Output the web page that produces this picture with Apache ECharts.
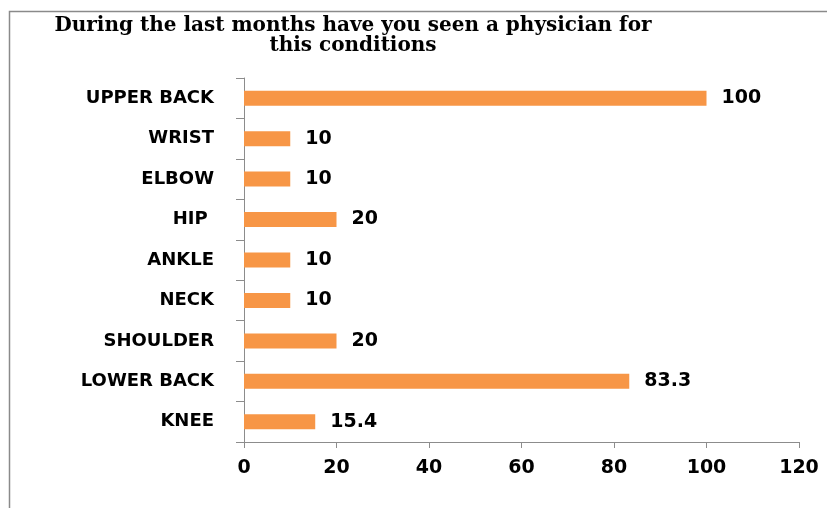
<!DOCTYPE html>
<html>
<head>
<meta charset="utf-8">
<script src="https://cdn.jsdelivr.net/npm/echarts@6/dist/echarts.min.js"></script>
<style>
  html, body { margin: 0; padding: 0; background: #fff; }
  #chart { width: 827px; height: 508px; }
</style>
</head>
<body>
<div id="chart"></div>
<script>
// Body regions, listed bottom to top as the category axis draws them
const regions = ['KNEE', 'LOWER BACK', 'SHOULDER', 'NECK', 'ANKLE', 'HIP ', 'ELBOW', 'WRIST', 'UPPER BACK'];
// Percentage who saw a physician for each region
const percentages = [15.4, 83.3, 20, 10, 10, 20, 10, 10, 100];
// Value axis range and step
const axisMin = 0;
const axisMax = 120;
const axisStep = 20;

const titleLines = ['During the last months have you seen a physician for', 'this conditions'];

const chart = echarts.init(document.getElementById('chart'), null, { renderer: 'canvas' });
const axisGray = '#8c8c8c';
const labelFont = 'DejaVu Sans';

chart.setOption({
  animation: false,
  backgroundColor: '#ffffff',
  title: {
    text: titleLines.join('\n'),
    left: 348,
    top: 11,
    textAlign: 'center',
    textStyle: {
      fontFamily: 'DejaVu Serif',
      fontWeight: 'bold',
      fontSize: 20,
      lineHeight: 20,
      color: '#000'
    }
  },
  graphic: [{
    type: 'rect',
    shape: { x: 9.5, y: 11.5, width: 900, height: 600 },
    style: { fill: 'none', stroke: '#8a8a8a', lineWidth: 1.5 },
    silent: true
  }],
  grid: { left: 244, right: 28, top: 78, bottom: 66, containLabel: false },
  xAxis: {
    type: 'value',
    min: axisMin,
    max: axisMax,
    interval: axisStep,
    axisLine: { show: true, lineStyle: { color: axisGray, width: 1 } },
    axisTick: { show: true, length: 6, lineStyle: { color: axisGray } },
    splitLine: { show: false },
    axisLabel: {
      margin: 17,
      color: '#000',
      fontFamily: labelFont,
      fontWeight: 'bold',
      fontSize: 19
    }
  },
  yAxis: {
    type: 'category',
    data: regions,
    boundaryGap: true,
    axisLine: { show: true, lineStyle: { color: axisGray, width: 1 } },
    axisTick: { show: true, length: 8, alignWithLabel: false, lineStyle: { color: axisGray } },
    axisLabel: {
      margin: 30,
      color: '#000',
      fontFamily: labelFont,
      fontWeight: 'bold',
      fontSize: 18
    }
  },
  series: [{
    type: 'bar',
    data: percentages,
    barWidth: 15,
    itemStyle: { color: '#F79646' },
    label: {
      show: true,
      position: 'right',
      distance: 15,
      color: '#000',
      fontFamily: labelFont,
      fontWeight: 'bold',
      fontSize: 19
    }
  }]
});
</script>
</body>
</html>
